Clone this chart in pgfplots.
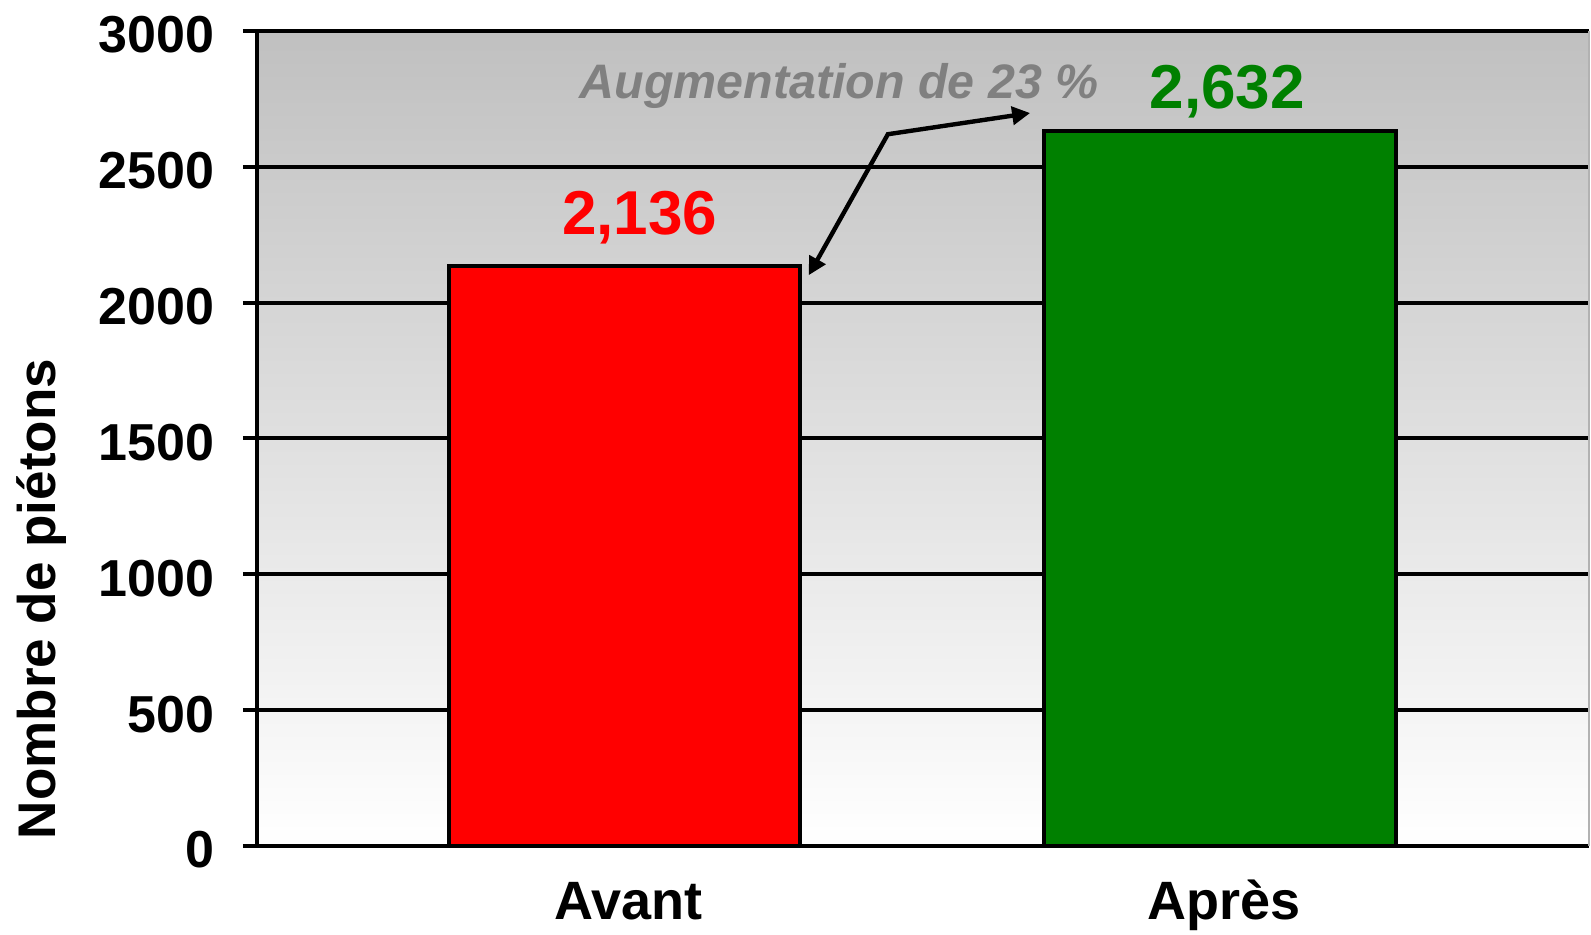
\documentclass[border=0pt]{standalone}
\usepackage{pgfplots}
\pgfplotsset{compat=1.18}
\usepackage{fontspec}
\setmainfont{Liberation Sans}
\usetikzlibrary{arrows.meta}
\definecolor{barred}{RGB}{255,0,0}
\definecolor{bargreen}{RGB}{0,128,0}
\definecolor{bgtop}{RGB}{192,192,192}
\definecolor{annot}{RGB}{128,128,128}
\begin{document}
\begin{tikzpicture}
\useasboundingbox (-128.5pt,-44.5pt) rectangle (667pt,423pt);
\begin{axis}[
  at={(0,0)}, anchor=south west,
  scale only axis, width=666pt, height=407.5pt,
  xmin=-0.618, xmax=1.62, ymin=0, ymax=3000,
  clip=false,
  axis background/.style={shade, top color=bgtop, bottom color=white},
  axis x line*=bottom, axis y line*=left,
  axis line style={-, line width=2pt, black},
  ytick={0,500,1000,1500,2000,2500,3000},
  ymajorgrids, major grid style={black, line width=2pt},
  tick align=outside, major tick length=7pt,
  tick style={black, line width=2pt},
  xtick={0,1}, xticklabels={Avant,Après},
  xtick style={draw=none},
  scaled ticks=false,
  /pgf/number format/1000 sep={},
  /pgf/number format/assume math mode=true,
  yticklabel style={font=\fontsize{26}{26}\selectfont\bfseries, anchor=east, inner sep=0pt, xshift=-14pt, yshift=-2pt},
  xticklabel style={font=\fontsize{27}{27}\selectfont\bfseries, anchor=base, inner sep=0pt, yshift=-30pt, xshift=2pt},
]
\addplot[ybar, bar width=0.59, bar shift=0pt, fill=barred, draw=black, line width=2pt] coordinates {(0,2136)};
\addplot[ybar, bar width=0.59, bar shift=0pt, fill=bargreen, draw=black, line width=2pt] coordinates {(1,2632)};
\draw[gray!60, line width=0.8pt] (rel axis cs:1,0) -- (rel axis cs:1,1);
\node[anchor=base, text=barred, font=\fontsize{31}{31}\selectfont\bfseries, inner sep=0pt] at (axis cs:0.025,2250) {2,136};
\node[anchor=base, text=bargreen, font=\fontsize{31}{31}\selectfont\bfseries, inner sep=0pt] at (axis cs:1.012,2716) {2,632};
\node[anchor=base, text=annot, font=\fontsize{24.2}{25}\selectfont\bfseries\itshape, inner sep=0pt] at (axis cs:0.36,2753) {Augmentation de 23 \%};
\draw[line width=2.2pt, {Triangle[length=9pt,width=9pt]}-{Triangle[length=9pt,width=9pt]}] (axis cs:0.309,2101) -- (axis cs:0.442,2620) -- (axis cs:0.681,2698);
\node[rotate=90, anchor=base, inner sep=0pt, font=\fontsize{26.5}{27}\selectfont\bfseries] at ([xshift=-100.5pt]rel axis cs:0,0.303) {Nombre de piétons};
\end{axis}
\end{tikzpicture}
\end{document}
